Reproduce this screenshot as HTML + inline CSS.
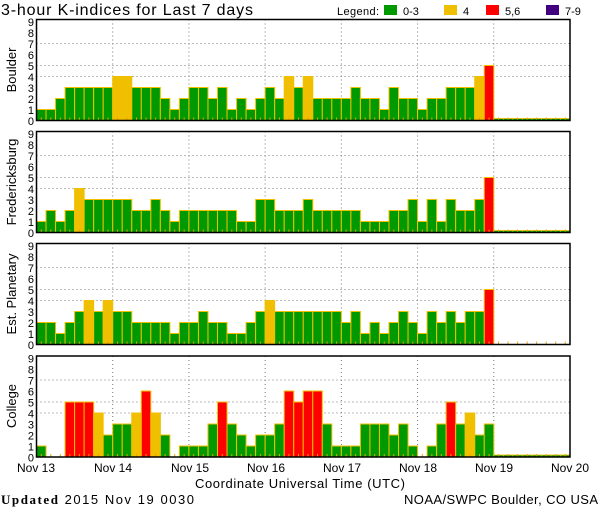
<!DOCTYPE html>
<html><head><meta charset="utf-8"><style>
html,body{margin:0;padding:0;background:#fff;}
svg{display:block;font-family:"Liberation Sans",sans-serif;}
</style></head><body>
<svg id="s" width="600" height="510" xmlns="http://www.w3.org/2000/svg">
<rect width="600" height="510" fill="#fff"/>
<text x="1" y="15" font-size="16" textLength="252">3-hour K-indices for Last 7 days</text>
<text x="337" y="15" font-size="11" textLength="42">Legend:</text>
<rect x="384" y="5" width="13" height="10" fill="#009900"/><text x="403" y="15" font-size="11">0-3</text>
<rect x="444" y="5" width="13" height="10" fill="#f0c000"/><text x="463" y="15" font-size="11">4</text>
<rect x="486" y="5" width="13" height="10" fill="#ff0000"/><text x="505" y="15" font-size="11">5,6</text>
<rect x="546" y="5" width="13" height="10" fill="#400080"/><text x="565" y="15" font-size="11">7-9</text>
<g id="g"></g>
<text x="16" y="70" font-size="13" transform="rotate(-90 16 70)" text-anchor="middle">Boulder</text>
<text x="16" y="182" font-size="13" transform="rotate(-90 16 182)" text-anchor="middle">Fredericksburg</text>
<text x="16" y="294" font-size="13" transform="rotate(-90 16 294)" text-anchor="middle">Est. Planetary</text>
<text x="16" y="406" font-size="13" transform="rotate(-90 16 406)" text-anchor="middle">College</text>
<g font-size="12" text-anchor="middle">
<text x="36" y="472">Nov 13</text><text x="113" y="472">Nov 14</text><text x="190" y="472">Nov 15</text><text x="266" y="472">Nov 16</text><text x="342" y="472">Nov 17</text><text x="418" y="472">Nov 18</text><text x="494" y="472">Nov 19</text><text x="570" y="472">Nov 20</text>
</g>
<text x="300" y="488" font-size="13" text-anchor="middle" textLength="210">Coordinate Universal Time (UTC)</text>
<text x="1" y="504" font-size="13" textLength="193"><tspan font-weight="bold" font-family="Liberation Serif">Updated</tspan> 2015 Nov 19 0030</text>
<text x="598" y="504" font-size="13" text-anchor="end" textLength="194">NOAA/SWPC Boulder, CO USA</text>
</svg>
<script>
var data=[
[1,1,2,3,3,3,3,3, 4,4,3,3,3,2,1,2, 3,3,2,3,1,2,1,2, 3,2,4,3,4,2,2,2, 2,3,2,2,1,3,2,2, 1,2,2,3,3,3,4,5],
[1,2,1,2,4,3,3,3, 3,3,2,2,3,2,1,2, 2,2,2,2,2,1,1,3, 3,2,2,2,3,2,2,2, 2,2,1,1,1,2,2,3, 1,3,1,3,2,2,3,5],
[2,2,1,2,3,4,3,4, 3,3,2,2,2,2,1,2, 2,3,2,2,1,1,2,3, 4,3,3,3,3,3,3,3, 2,3,1,2,1,2,3,2, 1,3,2,3,2,3,3,5],
[1,0,0,5,5,5,4,2, 3,3,4,6,4,2,0,1, 1,1,3,5,3,2,1,2, 2,3,6,5,6,6,3,1, 1,1,3,3,3,2,3,1, 0,1,3,5,3,4,2,3]];
var tops=[19.5,131.5,243.5,356],x0=36.5,x1=570,dw=(x1-x0)/7,bw=dw/8,u=11,h=101;
var o='';
function col(v){return v<=3?'#009900':v==4?'#f0c000':v<=6?'#ff0000':'#400080';}
for(var p=0;p<4;p++){
 var t=tops[p],b=t+h;
 [4,5,7].forEach(function(l){var y=b-l*u;o+='<line x1="'+x0+'" x2="'+x1+'" y1="'+y+'" y2="'+y+'" stroke="#777" stroke-dasharray="1,3"/>';});
 for(var d=1;d<7;d++){var x=x0+d*dw;o+='<line x1="'+x+'" x2="'+x+'" y1="'+t+'" y2="'+b+'" stroke="#777" stroke-dasharray="1,3"/>';}
 for(var l=0;l<=9;l++){o+='<text x="34" y="'+(b-l*u+4.5)+'" font-size="11" text-anchor="end">'+l+'</text>';}
 for(var i=0;i<56;i++){
  var x=x0+i*bw,v=i<48?data[p][i]:-1;
  if(v>0){o+='<rect x="'+x+'" y="'+(b-v*u)+'" width="'+bw+'" height="'+(v*u)+'" fill="'+col(v)+'" stroke="#f0c000" stroke-width="1"/>';}
  else if(v<0&&p!=2){o+='<rect x="'+x+'" y="'+(b-2)+'" width="'+bw+'" height="2" fill="#009900" stroke="#f0c000" stroke-width="0.8"/>';}
  o+='<rect x="'+(x+bw/2-0.5)+'" y="'+(b-3)+'" width="1" height="3" fill="#f0a000"/>';
 }
 o+='<rect x="'+x0+'" y="'+t+'" width="'+(x1-x0)+'" height="'+h+'" fill="none" stroke="#000" stroke-width="1.5"/>';
}
document.getElementById('g').innerHTML=o;
</script>
</body></html>
